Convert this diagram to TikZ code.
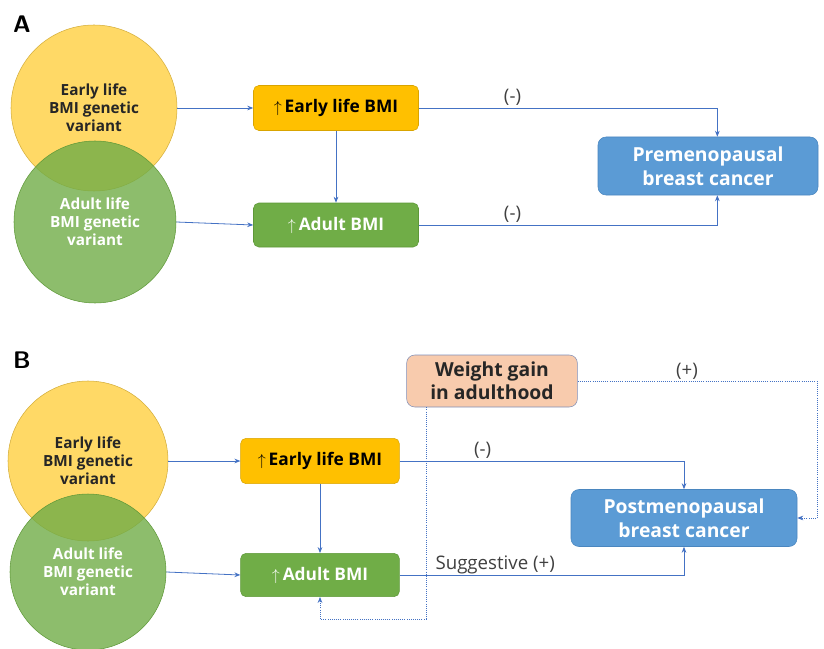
\documentclass[tikz,border=0pt]{standalone}
\usepackage{fontspec}
\setmainfont{Open Sans}
\usepackage{amsmath}
\usetikzlibrary{arrows.meta}

\definecolor{variantyellow}{HTML}{FFD966}
\definecolor{variantgold}{HTML}{D4AE3C}
\definecolor{bmigreen}{HTML}{70AD47}
\definecolor{bmigreendark}{HTML}{5E9838}
\definecolor{boxgold}{HTML}{FFC000}
\definecolor{boxgolddark}{HTML}{D9A400}
\definecolor{cancerblue}{HTML}{5B9BD5}
\definecolor{cancerbluedark}{HTML}{4A86BF}
\definecolor{peach}{HTML}{F8CBAD}
\definecolor{peachedge}{HTML}{7F8FB8}
\definecolor{linkblue}{HTML}{4472C4}
\definecolor{labelgrey}{HTML}{404040}

\tikzset{
  earlyvariant/.style={circle, draw=variantgold, fill=variantyellow, align=center,
    font=\bfseries\fontsize{11.5}{13.5}\selectfont, text=black!85},
  adultvariant/.style={circle, draw=bmigreendark, fill=bmigreen, fill opacity=0.8,
    text opacity=1, align=center, font=\bfseries\fontsize{11.5}{13.5}\selectfont, text=white},
  bmibox/.style={rounded corners=4pt, align=center, font=\bfseries\fontsize{13}{15}\selectfont},
  cancerbox/.style={rounded corners=6pt, draw=cancerbluedark, fill=cancerblue, text=white,
    align=center, font=\bfseries\fontsize{14.5}{18}\selectfont},
  link/.style={draw=linkblue, -{Stealth[length=4.5pt,width=3.5pt]}, line width=0.6pt},
  dotlink/.style={draw=linkblue, densely dotted, -{Stealth[length=4.5pt,width=3.5pt]}, line width=0.6pt},
  sign/.style={text=labelgrey, font=\fontsize{14}{16}\selectfont}
}

\begin{document}
\begin{tikzpicture}[x=0.75pt, y=-0.75pt] % one unit = one pixel of the reference
  \useasboundingbox (0,0) rectangle (824,649);

  %% ---------------- Panel A ----------------
  \node[font=\bfseries\sffamily\fontsize{18}{18}\selectfont] (labA) at (22,24) {A};

  % genetic variants
  \node[earlyvariant, minimum size=124.5pt] (evA) at (94,108) {Early life\\BMI genetic\\variant};
  \node[adultvariant, minimum size=121.5pt] (avA) at (95,222) {Adult life\\BMI genetic\\variant};

  % exposures
  \node[bmibox, draw=boxgolddark, fill=boxgold, minimum width=123.75pt, minimum height=33.75pt]
    (ebA) at (336,108) {$\uparrow$\,Early life BMI};
  \node[bmibox, draw=bmigreendark, fill=bmigreen, text=white, minimum width=123.75pt, minimum height=33pt]
    (abA) at (336,225) {$\uparrow$\,Adult BMI};

  % outcome
  \node[cancerbox, minimum width=165pt, minimum height=43.5pt] (preA) at (708,166)
    {Premenopausal\\breast cancer};

  % links
  \draw[link] (evA.east) -- (ebA.west);
  \draw[link] (avA.east) -- (abA.west);
  \draw[link] (ebA.south) -- (abA.north);
  \draw[link] (ebA.east) -| ([xshift=7pt]preA.north) node[sign, pos=0.157, above=-2pt] {(-)};
  \draw[link] (abA.east) -| ([xshift=7pt]preA.south) node[sign, pos=0.157, above=-2pt] {(-)};

  %% ---------------- Panel B ----------------
  \node[font=\bfseries\sffamily\fontsize{18}{18}\selectfont] (labB) at (22,360) {B};

  % genetic variants
  \node[earlyvariant, minimum size=120pt] (evB) at (88,461) {Early life\\BMI genetic\\variant};
  \node[adultvariant, minimum size=117pt] (avB) at (88,572) {Adult life\\BMI genetic\\variant};

  % exposures
  \node[bmibox, draw=boxgolddark, fill=boxgold, minimum width=119pt, minimum height=34pt]
    (ebB) at (320,461) {$\uparrow$\,Early life BMI};
  \node[bmibox, draw=bmigreendark, fill=bmigreen, text=white, minimum width=119pt, minimum height=32.5pt]
    (abB) at (320,575) {$\uparrow$\,Adult BMI};
  \node[bmibox, rounded corners=6pt, draw=peachedge, fill=peach, text=black!85,
    font=\bfseries\fontsize{14.5}{17}\selectfont, minimum width=128pt, minimum height=39pt]
    (wgB) at (492,381) {Weight gain\\in adulthood};

  % outcome
  \node[cancerbox, minimum width=169.5pt, minimum height=42.75pt] (postB) at (684,518)
    {Postmenopausal\\breast cancer};

  % links
  \coordinate (wgdown) at (426,619);
  \coordinate (wgright) at (817,381);
  \draw[link] (evB.east) -- (ebB.west);
  \draw[link] (avB.east) -- (abB.west);
  \draw[link] (ebB.south) -- (abB.north);
  \draw[link] (ebB.east) -| (postB.north) node[sign, pos=0.146, above=-2pt] {(-)};
  \draw[link] (abB.east) -| (postB.south) node[sign, pos=0.168, above=-3pt] {Suggestive (+)};
  \draw[dotlink] (wgB.south -| wgdown) -- (wgdown) -| (abB.south);
  \draw[dotlink] (wgB.east) -- (wgright) |- (postB.east);
  \node[sign, above=-2pt] (plusB) at (687,381) {(+)};
\end{tikzpicture}
\end{document}
